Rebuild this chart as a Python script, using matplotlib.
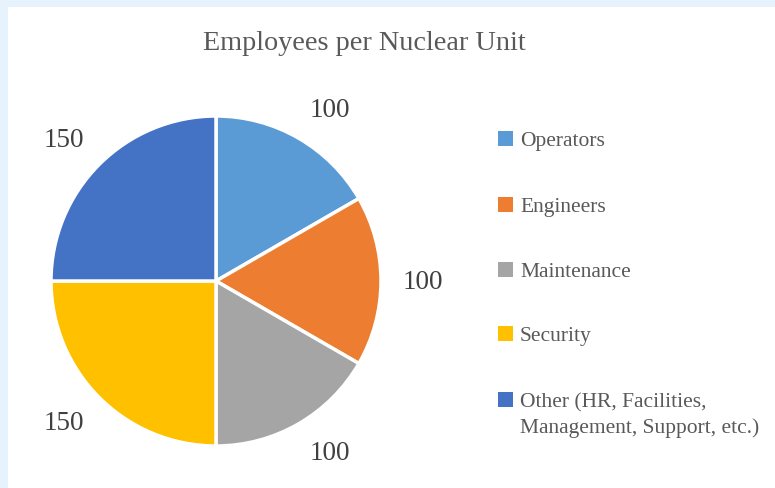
import numpy as np
import matplotlib
matplotlib.use("Agg")
import matplotlib.pyplot as plt
from matplotlib.patches import Rectangle
from matplotlib.transforms import offset_copy

# Staffing breakdown for one nuclear unit
categories = ["Operators", "Engineers", "Maintenance", "Security",
              "Other (HR, Facilities,\nManagement, Support, etc.)"]
employees = [100, 100, 100, 150, 150]
colors = ["#5B9BD5", "#ED7D31", "#A5A5A5", "#FFC000", "#4472C4"]

W, H = 775, 489
fig = plt.figure(figsize=(W / 100, H / 100), dpi=100)
fig.patch.set_facecolor("#E7F3FC")

# White chart area inset from the pale blue frame
fig.patches.append(Rectangle((8 / W, 0), 1 - 8 / W, 1 - 8 / H,
                             transform=fig.transFigure, facecolor="white",
                             edgecolor="none", zorder=-5))

serif = "Liberation Serif"

# Pie axes: centre (216, 282) px, radius 165 px
cx, cy, r = 216, 282, 165
ax = fig.add_axes([(cx - r) / W, (H - cy - r) / H, 2 * r / W, 2 * r / H])
ax.set_facecolor("none")
ax.set_zorder(2)

total = sum(employees)
wedges, _, value_texts = ax.pie(
    employees, colors=colors, startangle=90, counterclock=False,
    autopct=lambda p: f"{p * total / 100:.0f}", pctdistance=1.13,
    wedgeprops=dict(edgecolor="white", linewidth=2.5),
    textprops=dict(family=serif, fontsize=19.5, color="#404040"),
)
ax.set_xlim(-1, 1)
ax.set_ylim(-1, 1)
ax.set_aspect("equal")
ax.axis("off")

# Value labels sit just outside the rim, aligned away from the pie
dist = 1.13
for w, t in zip(wedges, value_texts):
    theta = np.deg2rad((w.theta1 + w.theta2) / 2)
    c, s = np.cos(theta), np.sin(theta)
    t.set_position((dist * c, dist * s))
    t.set_ha("left" if c > 0.1 else "right" if c < -0.1 else "center")
    t.set_va("center")
    dy = 10 if s > 0.1 else -10 if s < -0.1 else 0
    t.set_transform(offset_copy(ax.transData, fig=fig, x=0, y=dy, units="dots"))

fig.text(364 / W, 1 - 43 / H, "Employees per Nuclear Unit", ha="center",
         va="center", family=serif, fontsize=20.3, color="#595959")

# Legend drawn as a column of swatches and labels
row_y = [139, 205, 270, 334, 400]
sq = 15
for label, wedge, y in zip(categories, wedges, row_y):
    fig.patches.append(Rectangle((498 / W, 1 - (y + sq / 2) / H), sq / W, sq / H,
                                 transform=fig.transFigure,
                                 facecolor=wedge.get_facecolor(),
                                 edgecolor="none", zorder=3))
    fig.text(520 / W, 1 - (y - 7) / H, label, ha="left", va="top",
             family=serif, fontsize=15.5, color="#595959", linespacing=1.4)

fig.savefig("out.png", dpi=100)
